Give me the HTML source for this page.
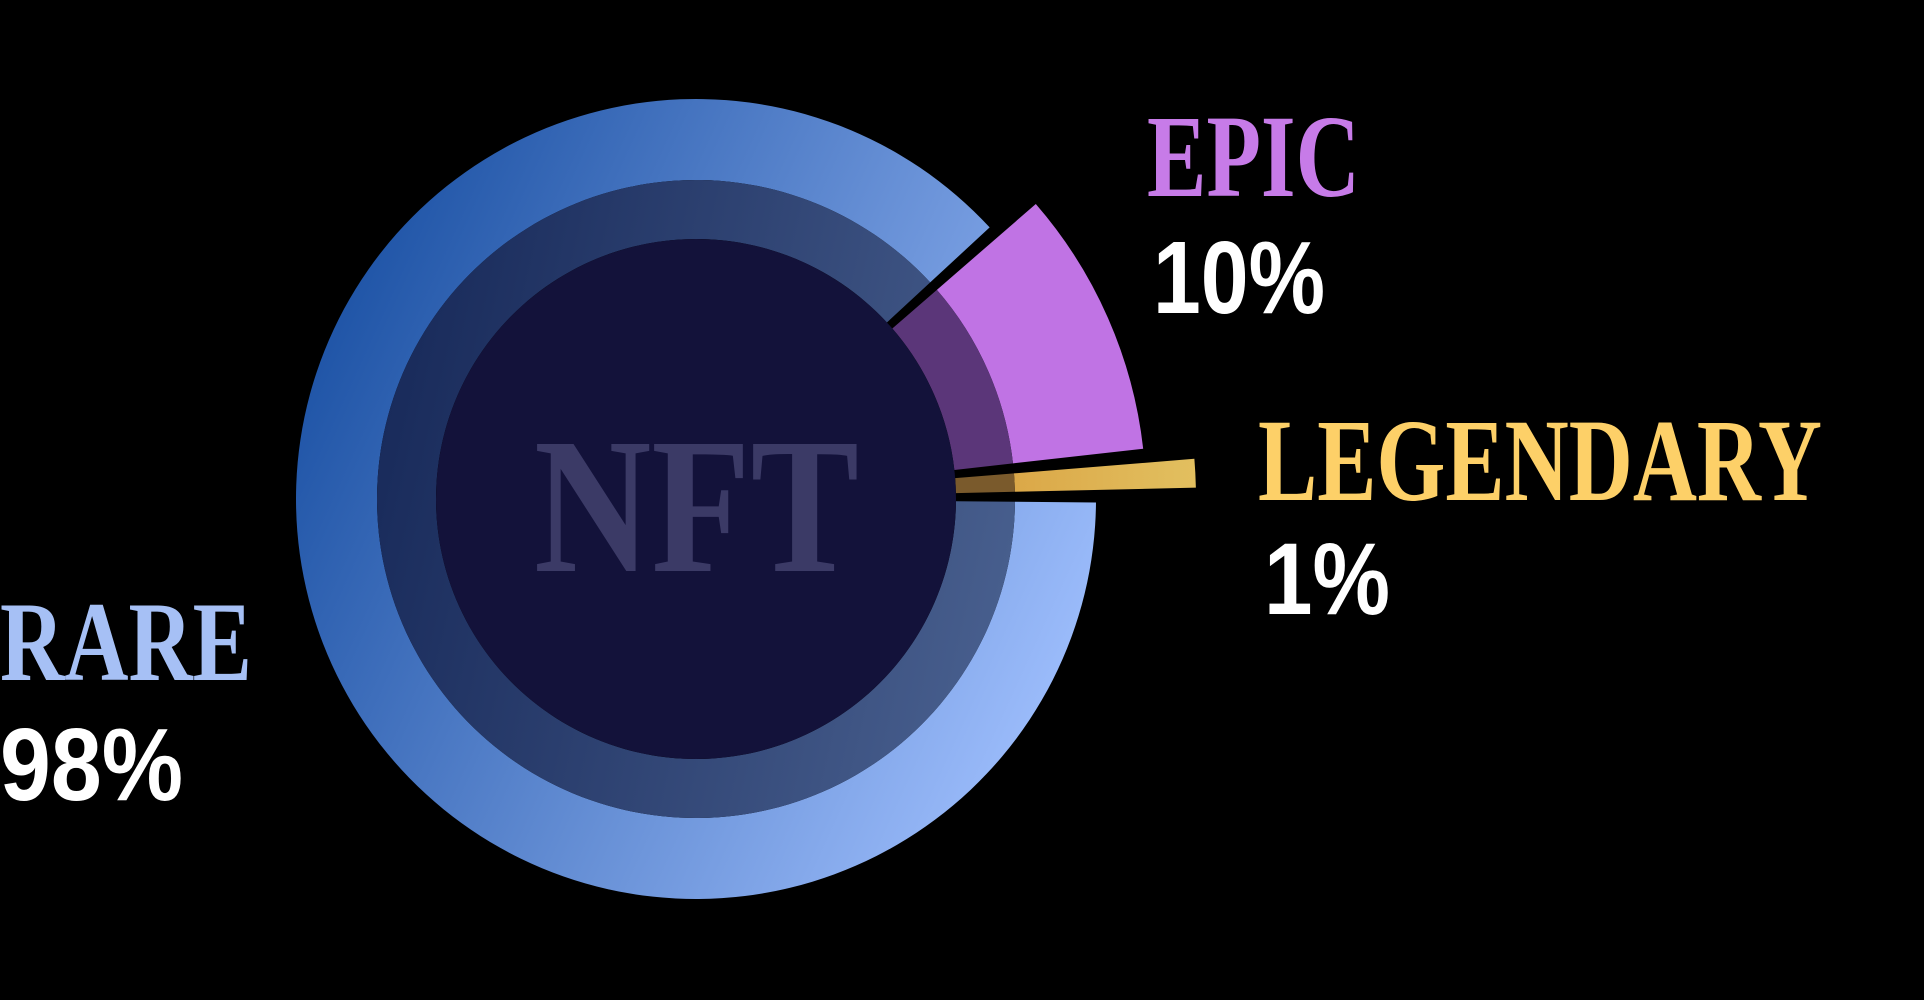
<!DOCTYPE html>
<html><head><meta charset="utf-8"><style>
html,body{margin:0;padding:0;background:#000;width:1924px;height:1000px;overflow:hidden}
svg{display:block}
.lbl{font-family:"Liberation Serif",serif;font-weight:bold}
.pct{font-family:"Liberation Sans",sans-serif;font-weight:bold;fill:#fff}
</style></head><body>
<svg id="chart" width="1924" height="1000" viewBox="0 0 1924 1000" xmlns="http://www.w3.org/2000/svg">
<defs>
<linearGradient id="gRare" gradientUnits="userSpaceOnUse" x1="296" y1="420" x2="1040" y2="760">
<stop offset="0" stop-color="#2156a8"/><stop offset="0.55" stop-color="#6790d6"/><stop offset="1" stop-color="#9dbdfc"/></linearGradient>
<linearGradient id="gRareIn" gradientUnits="userSpaceOnUse" x1="377" y1="450" x2="1015" y2="600">
<stop offset="0" stop-color="#192b5b"/><stop offset="1" stop-color="#485f8e"/></linearGradient>
<linearGradient id="gLeg" gradientUnits="userSpaceOnUse" x1="1015" y1="0" x2="1200" y2="0">
<stop offset="0" stop-color="#dba848"/><stop offset="1" stop-color="#e2c060"/></linearGradient>
</defs>
<g id="slices"></g>
<circle cx="696" cy="499" r="260" fill="#13123a"/>
<text class="lbl" x="534" y="571" font-size="194" textLength="325" lengthAdjust="spacingAndGlyphs" fill="#3b3a66">NFT</text>
<g id="labels"></g>
</svg>
<script>
// data
const categories = ['LEGENDARY', 'EPIC', 'RARE'];
const sliceValues = [1.42, 10.1, 88.5];        // share of the circle
const printedValues = ['1%', '10%', '98%'];    // labels as printed
// styles
const outerRadius = [500, 450, 400];
const outerFill = ['url(#gLeg)', '#c073e4', 'url(#gRare)'];
const innerFill = ['#7a5a2c', '#5b3679', 'url(#gRareIn)'];
const labelColor = ['#fdd068', '#c77be8', '#a6c0f5'];

const cx = 696, cy = 499, rIn = 260, rMid = 319, gapDeg = 1.8, startDeg = 0.4;
const NS = 'http://www.w3.org/2000/svg';
function pt(r, deg){const a = deg*Math.PI/180; return [cx + r*Math.cos(a), cy - r*Math.sin(a)];}
function arc(r0, r1, a0, a1){
  const large = (a1 - a0) > 180 ? 1 : 0;
  const p0 = pt(r1, a0), p1 = pt(r1, a1), p2 = pt(r0, a1), p3 = pt(r0, a0);
  return `M${p0[0]},${p0[1]} A${r1},${r1} 0 ${large} 0 ${p1[0]},${p1[1]} L${p2[0]},${p2[1]} A${r0},${r0} 0 ${large} 1 ${p3[0]},${p3[1]} Z`;
}
const total = sliceValues.reduce((a,b)=>a+b,0);
const g = document.getElementById('slices');
let a = startDeg;
sliceValues.forEach((v,i)=>{
  const span = v/total*360;
  const a0 = a + gapDeg/2, a1 = a + span - gapDeg/2;
  const outer = document.createElementNS(NS,'path');
  outer.setAttribute('d', arc(rMid, outerRadius[i], a0, a1));
  outer.setAttribute('fill', outerFill[i]);
  
  
  g.appendChild(outer);
  const inner = document.createElementNS(NS,'path');
  inner.setAttribute('d', arc(rIn, rMid, a0, a1));
  inner.setAttribute('fill', innerFill[i]);
  
  
  g.appendChild(inner);
  a += span;
});
// labels: position/size per category (layout)
const labelPos = [
  {x:1258, y:500, fs:118, w:564, px:1264, py:614, pfs:102, pw:126},
  {x:1147, y:196, fs:118, w:213, px:1153, py:313, pfs:103, pw:172},
  {x:0, y:680, fs:113, w:252, px:0, py:800, pfs:103, pw:183}
];
const lg = document.getElementById('labels');
categories.forEach((c,i)=>{
  const L = labelPos[i];
  const t = document.createElementNS(NS,'text');
  t.setAttribute('class','lbl');
  t.setAttribute('x', L.x); t.setAttribute('y', L.y);
  t.setAttribute('font-size', L.fs);
  t.setAttribute('textLength', L.w); t.setAttribute('lengthAdjust','spacingAndGlyphs');
  t.setAttribute('fill', labelColor[i]);
  t.textContent = c;
  
  
  lg.appendChild(t);
  const p = document.createElementNS(NS,'text');
  p.setAttribute('class','pct');
  p.setAttribute('x', L.px); p.setAttribute('y', L.py);
  p.setAttribute('font-size', L.pfs);
  p.setAttribute('textLength', L.pw); p.setAttribute('lengthAdjust','spacingAndGlyphs');
  p.textContent = printedValues[i];
  
  
  lg.appendChild(p);
});
</script>
</body></html>
